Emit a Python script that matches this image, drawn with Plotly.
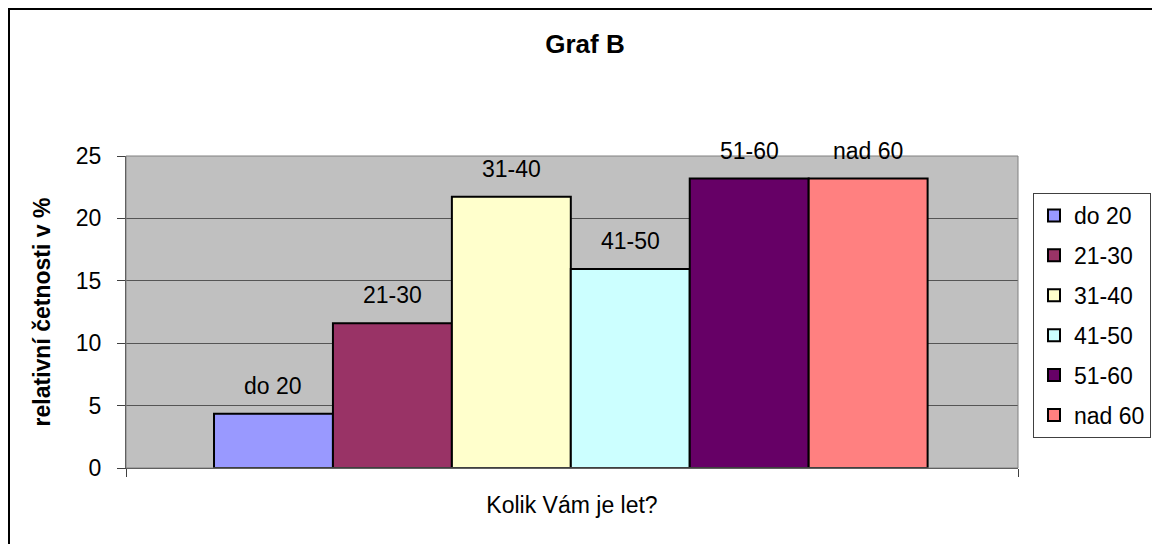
import plotly.graph_objects as go

# Data
categories = ["do 20", "21-30", "31-40", "41-50", "51-60", "nad 60"]
values = [4.35, 11.59, 21.74, 15.94, 23.19, 23.19]
colors = ["#9999FF", "#993366", "#FFFFCC", "#CCFFFF", "#660066", "#FF8080"]
y_ticks = [0, 5, 10, 15, 20, 25]

FONT = "Liberation Sans, Arial, sans-serif"
positions = list(range(len(categories)))
x_range = [-1.24, len(categories) - 1 + 1.26]

# plot area in figure pixel coords
L, R, T, B = 118, 1010, 148, 460
W, H = 1160, 544
PW, PH = R - L, B - T

fig = go.Figure()
for pos, cat, val, col in zip(positions, categories, values, colors):
    fig.add_trace(go.Bar(
        x=[pos], y=[val], name=cat, width=1,
        marker=dict(color=col, line=dict(color="black", width=2)),
        legendgroup=cat, showlegend=True,
    ))
    fig.add_annotation(
        x=pos, y=val, text=cat, showarrow=False, yshift=28,
        yanchor="middle", font=dict(family=FONT, size=23, color="black"),
    )

fig.update_layout(
    width=W, height=H,
    margin=dict(l=L, r=W - R, t=T, b=H - B, autoexpand=False),
    paper_bgcolor="white", plot_bgcolor="#C0C0C0",
    font=dict(family=FONT, size=23, color="black"),
    title=dict(text="<b>Graf B</b>", x=577 / W, xref="container", xanchor="center",
               y=1 - 36 / H, yref="container", yanchor="middle",
               font=dict(family=FONT, size=26, color="black")),
    barmode="overlay",
    showlegend=True,
    legend=dict(x=(1025 - L) / PW, y=(B - 185) / PH, xanchor="left", yanchor="top",
                bgcolor="white", bordercolor="#404040", borderwidth=1,
                font=dict(family=FONT, size=23, color="black"),
                traceorder="grouped", tracegroupgap=7, itemwidth=30),
    xaxis=dict(range=x_range, tickvals=x_range, ticktext=["", ""], ticks="outside",
               ticklen=8, tickcolor="#404040", showgrid=False, zeroline=False,
               showline=True, linecolor="#404040", linewidth=1, mirror=False,
               title=dict(text="Kolik Vám je let?", standoff=16,
                          font=dict(family=FONT, size=23, color="black"))),
    yaxis=dict(range=[0, 25], tickvals=y_ticks, ticks="outside", ticklen=8,
               tickcolor="#404040", showgrid=True, gridcolor="#555555", gridwidth=1,
               zeroline=False, showline=True, linecolor="#404040", linewidth=1,
               ticklabelstandoff=11,
               tickfont=dict(family=FONT, size=23, color="black"),
               title=dict(text="<b>relativní četnosti v %</b>", standoff=18,
                          font=dict(family=FONT, size=23, color="black"))),
    shapes=[
        dict(type="rect", xref="paper", yref="paper",
             x0=0, x1=1.0, y0=0, y1=1.0,
             line=dict(color="#808080", width=1), fillcolor="rgba(0,0,0,0)", layer="above"),
        dict(type="rect", xref="paper", yref="paper",
             x0=(1 - L) / PW, x1=(W + 20 - L) / PW,
             y0=(B - H - 20) / PH, y1=(B - 1) / PH,
             line=dict(color="black", width=2), fillcolor="rgba(0,0,0,0)"),
    ],
)

fig.write_html("out.html")
